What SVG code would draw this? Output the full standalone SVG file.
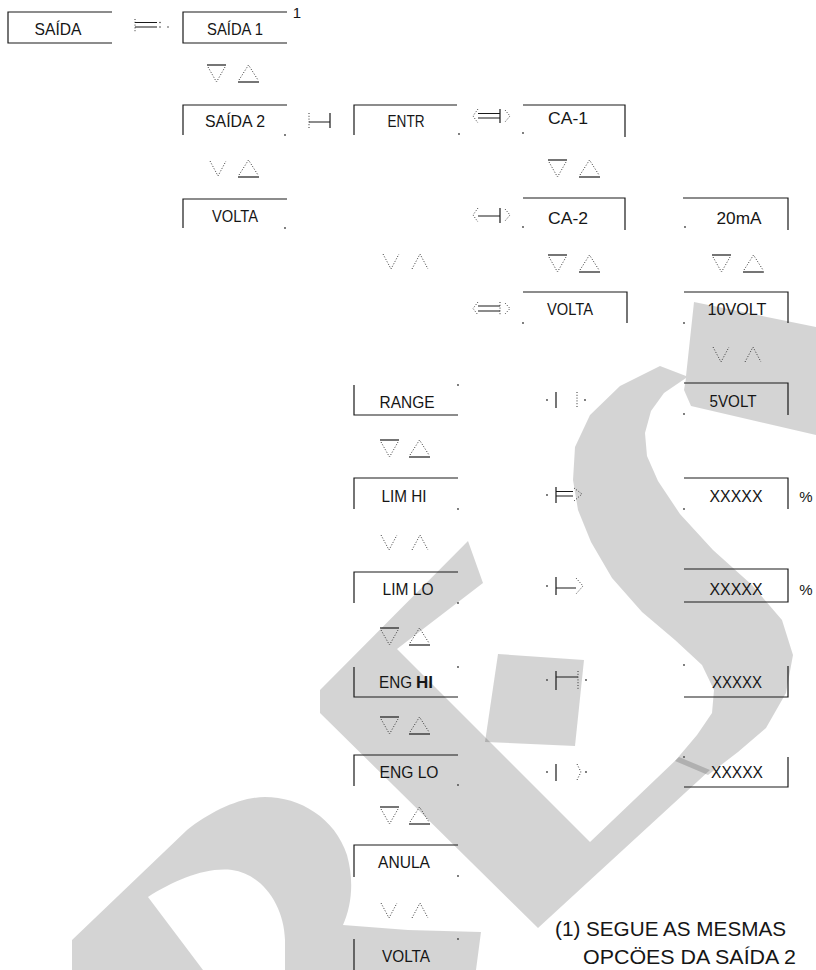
<svg xmlns="http://www.w3.org/2000/svg" width="816" height="970" viewBox="0 0 816 970">
<style>
.wm{fill:#000;fill-opacity:0.17;stroke:none}
.ln{stroke:#1a1a1a;stroke-width:1.2;fill:none}
.dt{stroke:#333;stroke-width:1;stroke-dasharray:1 1.8;fill:none}
.pt{fill:#444}
.t{font-family:"Liberation Sans",Arial,sans-serif;font-size:17px;fill:#161616;text-anchor:middle}
.ts{font-family:"Liberation Sans",Arial,sans-serif;font-size:17px;fill:#161616;text-anchor:start}
.fn{font-family:"Liberation Sans",Arial,sans-serif;font-size:19.5px;fill:#161616}
</style>
<defs>
<g id="dn"><path class="ln" d="M0,0H19"/><path class="dt" d="M1,2L9.5,17L18,2"/></g>
<g id="up"><path class="ln" d="M0,17H21"/><path class="dt" d="M1,15L10.5,0L20,15"/></g>
<g id="vv"><path class="dt" d="M0,0L8,15L16,0"/></g>
<g id="aa"><path class="dt" d="M0,15L8,0L16,15"/></g>
</defs>
<rect width="816" height="970" fill="#fff"/>
<g id="watermark">
<path class="wm" d="M660,366 L686,376 L694,302 L816,327 L816,435 L691,406 L684,390 L686,378 L664,393 L651,411 L645,433 L647,456 L658,481 L680,514 L713,550 L752,585 L782,620 L793,655 L786,693 L766,728 L738,752 L708,775 L675,761 L697,735 L712,713 L714,690 L702,665 L675,640 L642,612 L612,578 L591,542 L578,510 L573,480 L575,447 L590,415 L620,386 Z"/>
<path class="wm" d="M468,541 L483,583 L397,649 L590,842 L679,757 L710,770 L538,928 L320,713 L320,690 Z"/>
<path class="wm" d="M498,654 L584,660 L575,746 L485,742 Z"/>
<path class="wm" d="M72,970 L72,940 L187,830 C210,812 240,797 265,797 C300,797 335,818 347,855 C354,880 352,905 343,925 L408,930 L481,932 L476,970 L285,970 L285,940 C284,905 262,874 232,870 C205,867 175,880 148,897 L203,970 Z"/>
</g>
<g id="connectors">
<g id="c1"><path class="dt" d="M135,19V33"/><path class="ln" d="M135,22.5H157M135,27H157"/><circle class="pt" cx="160" cy="22.5" r="0.8"/><circle class="pt" cx="160" cy="27" r="0.8"/><circle class="pt" cx="168" cy="27" r="0.8"/></g>
<g id="c2"><path class="dt" d="M309,113V128"/><path class="ln" d="M309,122H330M330,113V128"/></g>
<g id="c3"><path class="dt" d="M478,109L473,116L478,123M505,110L510,116L505,122"/><path class="ln" d="M478,113.5H500M478,118H500M500,109V123"/></g>
<g id="c4"><path class="dt" d="M478,208L473,215L478,222M505,209L510,215L505,221"/><path class="ln" d="M478,216H500M500,208V223"/></g>
<g id="c5"><path class="dt" d="M478,302L473,308.5L478,315M505,303L510,308.5L505,314M500,302V315"/><path class="ln" d="M478,306H500M478,311H500"/></g>
<g id="c6"><circle class="pt" cx="547" cy="400" r="0.9"/><path class="ln" d="M556,392V408"/><path class="dt" d="M577,392V408"/><circle class="pt" cx="585" cy="400" r="0.9"/></g>
<g id="c7"><circle class="pt" cx="547" cy="495" r="0.9"/><path class="ln" d="M556,487V503M556,491.5H573M556,496H573"/><path class="dt" d="M574,488L582,494L574,501"/></g>
<g id="c8"><circle class="pt" cx="547" cy="586" r="0.9"/><path class="ln" d="M556,577V595M556,588H576"/><path class="dt" d="M576,578L583,586L576,594"/></g>
<g id="c9"><circle class="pt" cx="547" cy="680" r="0.9"/><path class="ln" d="M556,671V690M556,677H578"/><path class="dt" d="M578,671V690"/><circle class="pt" cx="586" cy="680" r="0.9"/></g>
<g id="c10"><circle class="pt" cx="547" cy="772" r="0.9"/><path class="ln" d="M556,764V781"/><path class="dt" d="M577,764L581,772L577,780"/><circle class="pt" cx="586" cy="772" r="0.9"/></g>
<g id="nav">
<use href="#dn" x="207" y="65"/><use href="#up" x="238" y="65"/>
<use href="#vv" x="210" y="161"/><use href="#up" x="238" y="160"/>
<use href="#dn" x="548" y="160"/><use href="#up" x="579" y="160"/>
<use href="#vv" x="383" y="254"/><use href="#aa" x="412" y="254"/>
<use href="#dn" x="548" y="255"/><use href="#up" x="579" y="255"/>
<use href="#dn" x="712" y="255"/><use href="#up" x="743" y="255"/>
<use href="#vv" x="713" y="347"/><use href="#aa" x="745" y="347"/>
<use href="#dn" x="380" y="440"/><use href="#up" x="409" y="440"/>
<use href="#vv" x="381" y="535"/><use href="#aa" x="412" y="535"/>
<use href="#dn" x="380" y="628"/><use href="#up" x="409" y="628"/>
<use href="#dn" x="380" y="717"/><use href="#up" x="409" y="717"/>
<use href="#dn" x="380" y="807"/><use href="#up" x="409" y="807"/>
<use href="#vv" x="381" y="903"/><use href="#aa" x="412" y="903"/>
</g>
</g>
<g id="n-saida"><path class="ln" d="M112,12H8V43H112"/><text class="t" x="58" y="35" textLength="47" lengthAdjust="spacingAndGlyphs">SAÍDA</text></g>
<g id="n-saida1"><path class="ln" d="M287,12H183V43H287"/><text class="t" x="235" y="35" textLength="56" lengthAdjust="spacingAndGlyphs">SAÍDA 1</text><text class="t" x="297" y="18" style="font-size:15px">1</text></g>
<g id="n-saida2"><path class="ln" d="M287,105H183V135"/><circle class="pt" cx="285" cy="135" r="0.9"/><text class="t" x="235" y="127" textLength="60" lengthAdjust="spacingAndGlyphs">SAÍDA 2</text></g>
<g id="n-volta1"><path class="ln" d="M287,199H183V228"/><circle class="pt" cx="285" cy="228" r="0.9"/><text class="t" x="235" y="222" textLength="46" lengthAdjust="spacingAndGlyphs">VOLTA</text></g>
<g id="n-entr"><path class="ln" d="M457,105H354V135"/><circle class="pt" cx="459" cy="134" r="0.9"/><text class="t" x="406" y="127" textLength="37" lengthAdjust="spacingAndGlyphs">ENTR</text></g>
<g id="n-ca1"><path class="ln" d="M523,105H625V137"/><circle class="pt" cx="523" cy="133" r="0.9"/><text class="t" x="568" y="124" textLength="40" lengthAdjust="spacingAndGlyphs">CA-1</text></g>
<g id="n-ca2"><path class="ln" d="M523,198H625V230"/><circle class="pt" cx="523" cy="227" r="0.9"/><text class="t" x="568" y="224" textLength="40" lengthAdjust="spacingAndGlyphs">CA-2</text></g>
<g id="n-20ma"><path class="ln" d="M683,198H788V230"/><circle class="pt" cx="685" cy="227" r="0.9"/><text class="t" x="739" y="224" textLength="45" lengthAdjust="spacingAndGlyphs">20mA</text></g>
<g id="n-volta2"><path class="ln" d="M523,292H627V323"/><circle class="pt" cx="523" cy="323" r="0.9"/><text class="t" x="570" y="315" textLength="46" lengthAdjust="spacingAndGlyphs">VOLTA</text></g>
<g id="n-10volt"><path class="ln" d="M684,292H788V323"/><circle class="pt" cx="684" cy="323" r="0.9"/><text class="t" x="737" y="315" textLength="59" lengthAdjust="spacingAndGlyphs">10VOLT</text></g>
<g id="n-range"><path class="ln" d="M354,385V415H458"/><circle class="pt" cx="458" cy="385" r="0.9"/><text class="t" x="407" y="408" textLength="55" lengthAdjust="spacingAndGlyphs">RANGE</text></g>
<g id="n-5volt"><path class="ln" d="M684,383H788V415"/><circle class="pt" cx="684" cy="414" r="0.9"/><text class="t" x="733" y="407" textLength="47" lengthAdjust="spacingAndGlyphs">5VOLT</text></g>
<g id="n-limhi"><path class="ln" d="M458,478H354V509"/><circle class="pt" cx="458" cy="509" r="0.9"/><text class="t" x="404" y="502" textLength="45" lengthAdjust="spacingAndGlyphs">LIM HI</text></g>
<g id="n-x1"><path class="ln" d="M684,478H788V509"/><circle class="pt" cx="684" cy="509" r="0.9"/><text class="t" x="736" y="502" textLength="53" lengthAdjust="spacingAndGlyphs">XXXXX</text><text class="t" x="806" y="502" style="font-size:15px">%</text></g>
<g id="n-limlo"><path class="ln" d="M458,572H354V603"/><circle class="pt" cx="458" cy="603" r="0.9"/><text class="t" x="408" y="595" textLength="51" lengthAdjust="spacingAndGlyphs">LIM LO</text></g>
<g id="n-x2"><path class="ln" d="M684,569H788V602H684"/><text class="t" x="736" y="595" textLength="53" lengthAdjust="spacingAndGlyphs">XXXXX</text><text class="t" x="806" y="595" style="font-size:15px">%</text></g>
<g id="n-enghi"><path class="ln" d="M354,667V697H458"/><circle class="pt" cx="458" cy="667" r="0.9"/><text class="ts" x="379" y="688" textLength="33" lengthAdjust="spacingAndGlyphs">ENG</text><text class="ts" x="416" y="688" font-weight="bold" textLength="17" lengthAdjust="spacingAndGlyphs">HI</text></g>
<g id="n-x3"><path class="ln" d="M684,697H788V666"/><circle class="pt" cx="684" cy="665" r="0.9"/><text class="t" x="737" y="688" textLength="50" lengthAdjust="spacingAndGlyphs">XXXXX</text></g>
<g id="n-englo"><path class="ln" d="M458,755H354V786"/><circle class="pt" cx="458" cy="785" r="0.9"/><text class="t" x="409" y="778" textLength="59" lengthAdjust="spacingAndGlyphs">ENG LO</text></g>
<g id="n-x4"><path class="ln" d="M684,787H788V757"/><circle class="pt" cx="684" cy="757" r="0.9"/><text class="t" x="737" y="778" textLength="52" lengthAdjust="spacingAndGlyphs">XXXXX</text></g>
<g id="n-anula"><path class="ln" d="M458,845H354V877"/><circle class="pt" cx="458" cy="876" r="0.9"/><text class="t" x="404" y="868" textLength="52" lengthAdjust="spacingAndGlyphs">ANULA</text></g>
<g id="n-volta3"><path class="ln" d="M354,939V970"/><circle class="pt" cx="458" cy="939" r="0.9"/><text class="t" x="406" y="962" textLength="48" lengthAdjust="spacingAndGlyphs">VOLTA</text></g>
<g id="note"><text class="fn" x="555" y="936" textLength="231" lengthAdjust="spacingAndGlyphs">(1) SEGUE AS MESMAS</text><text class="fn" x="583" y="964" textLength="213" lengthAdjust="spacingAndGlyphs">OPCÖES DA SAÍDA 2</text></g>
</svg>
